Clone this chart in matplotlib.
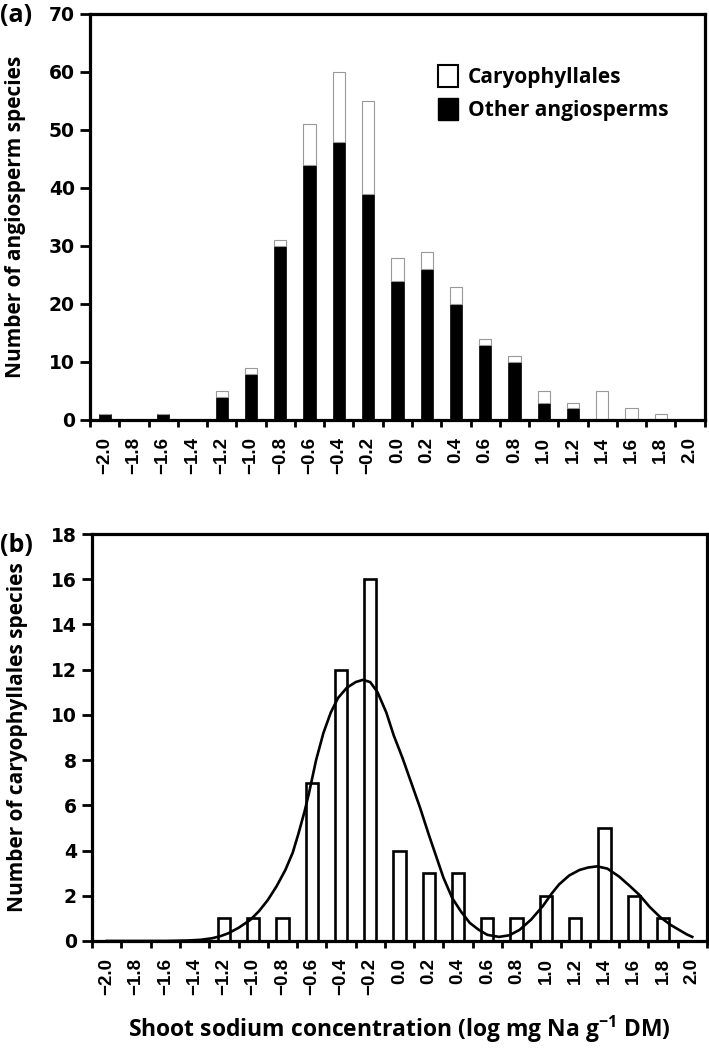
import numpy as np
import matplotlib
matplotlib.use('Agg')
import matplotlib.pyplot as plt
from matplotlib.patches import Patch
from matplotlib.font_manager import FontProperties

plt.rcParams['mathtext.fontset'] = 'custom'
plt.rcParams['mathtext.rm'] = 'Open Sans'
plt.rcParams['mathtext.bf'] = 'Open Sans:bold'

# bins of log shoot Na (mg Na / g DM)
bins = [-2.0, -1.8, -1.6, -1.4, -1.2, -1.0, -0.8, -0.6, -0.4, -0.2, 0.0,
        0.2, 0.4, 0.6, 0.8, 1.0, 1.2, 1.4, 1.6, 1.8, 2.0]
other_angio = [1, 0, 1, 0, 4, 8, 30, 44, 48, 39, 24, 26, 20, 13, 10, 3, 2, 0, 0, 0, 0]
caryo = [0, 0, 0, 0, 1, 1, 1, 7, 12, 16, 4, 3, 3, 1, 1, 2, 1, 5, 2, 1, 0]
tick_labels = ['\u2212%.1f' % abs(b) if b < 0 else '%.1f' % b for b in bins]

# fitted curve in (b)
curve_x = [-2.0, -1.6, -1.45, -1.36, -1.28, -1.22, -1.17, -1.1, -1.02, -0.96, -0.9,
           -0.84, -0.78, -0.73, -0.69, -0.65, -0.62, -0.57, -0.52, -0.47, -0.42, -0.36,
           -0.3, -0.25, -0.2, -0.15, -0.09, -0.04, 0.02, 0.08, 0.14, 0.2, 0.25, 0.3,
           0.36, 0.42, 0.48, 0.54, 0.6, 0.68, 0.75, 0.82, 0.9, 0.98, 1.04, 1.09,
           1.16, 1.23, 1.29, 1.35, 1.42, 1.5, 1.57, 1.64, 1.71, 1.78, 1.85, 1.91,
           1.96, 2.0]
curve_y = [0.0, 0.0, 0.02, 0.05, 0.12, 0.22, 0.34, 0.58, 0.93, 1.32, 1.81,
           2.42, 3.14, 3.9, 4.76, 5.7, 6.5, 8.0, 9.2, 10.1, 10.75, 11.2,
           11.45, 11.55, 11.45, 11.0, 10.1, 9.1, 8.1, 7.0, 5.9, 4.7, 3.75, 2.8,
           1.9, 1.3, 0.8, 0.5, 0.27, 0.18, 0.25, 0.49, 0.95, 1.55, 2.1, 2.5,
           2.9, 3.14, 3.25, 3.3, 3.2, 2.85, 2.45, 2.03, 1.5, 1.06, 0.72, 0.49,
           0.3, 0.18]

pos = np.arange(len(bins))
bounds = np.arange(len(bins) + 1) - 0.5
bar_w = 0.42
xtick_font = {'family': 'Liberation Sans', 'weight': 'bold', 'size': 13.5}
ytick_font = FontProperties(family='DejaVu Sans', weight='bold', size=13.5)
lab_font = {'family': 'Open Sans', 'weight': 'bold', 'size': 15}

fig = plt.figure(figsize=(7.09, 10.51), dpi=100)
ax1 = fig.add_axes([0.127, 0.6004, 0.867, 0.3863])
ax2 = fig.add_axes([0.130, 0.1047, 0.867, 0.3872])

# (a) stacked
ax1.bar(pos, other_angio, bar_w, color='black', edgecolor='black', linewidth=0.5)
ax1.bar(pos, caryo, bar_w, bottom=other_angio, color='white', edgecolor='#999999', linewidth=0.8)
ax1.set_ylim(0, 70)
ax1.set_yticks(range(0, 71, 10))
handles = [Patch(facecolor='white', edgecolor='black', linewidth=1.5, label='Caryophyllales'),
           Patch(facecolor='black', edgecolor='black', label='Other angiosperms')]
ax1.legend(handles=handles, loc='upper left', bbox_to_anchor=(0.535, 0.92), frameon=False,
           prop={'family': 'Open Sans', 'weight': 'bold', 'size': 15},
           handlelength=1.0, handleheight=1.2, handletextpad=0.45, labelspacing=0.5)
ax1.set_ylabel('Number of angiosperm species', fontdict=lab_font)

# (b) caryophyllales only + fit
ax2.bar(pos, caryo, bar_w, color='white', edgecolor='black', linewidth=1.9)
ax2.plot((np.array(curve_x) + 2.0) / 0.2, curve_y, color='black', linewidth=1.9,
         solid_joinstyle='round')
ax2.set_ylim(0, 18)
ax2.set_yticks(range(0, 19, 2))
ax2.set_ylabel('Number of caryophyllales species', fontdict=lab_font)
ax2.set_xlabel(r'Shoot sodium concentration (log mg Na g$^{\mathbf{-1}}$ DM)',
               fontdict={'family': 'Open Sans', 'weight': 'bold', 'size': 16.5}, labelpad=14)

for ax in (ax1, ax2):
    ax.set_xlim(-0.5, len(bins) - 0.5)
    ax.set_xticks(pos)
    ax.set_xticklabels(tick_labels, rotation=90, fontdict=xtick_font)
    ax.set_xticks(bounds, minor=True)
    ax.tick_params(axis='x', which='major', length=0, pad=12)
    ax.tick_params(axis='x', which='minor', length=5, width=2, direction='out')
    ax.tick_params(axis='y', length=7, width=2, direction='out', pad=4)
    for t in ax.get_yticklabels():
        t.set_fontproperties(ytick_font)
    for s in ax.spines.values():
        s.set_linewidth(2.3)
    ax.yaxis.set_label_coords(-0.104, 0.5)

fig.text(0.0, 1 - 16/1051, '(a)', fontdict={'family': 'Open Sans', 'weight': 'bold', 'size': 18}, va='center')
fig.text(0.0, 1 - 546/1051, '(b)', fontdict={'family': 'Open Sans', 'weight': 'bold', 'size': 18}, va='center')

fig.savefig('out.png', dpi=100)
